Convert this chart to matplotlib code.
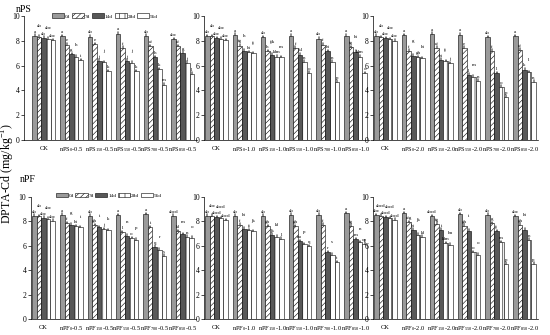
import numpy as np
import matplotlib.pyplot as plt
from matplotlib.patches import Patch

plt.rcParams['font.family'] = 'Liberation Serif'
plt.rcParams['mathtext.fontset'] = 'custom'
plt.rcParams['mathtext.rm'] = 'Liberation Serif'
plt.rcParams['hatch.linewidth'] = 0.4

days = ['0d', '7d', '14d', '28d', '56d']
sizes = ['0', '150', '550', '700', '850']
err = 0.12

# nPS, 0.5 / 1.0 / 2.0  (rows = CK, 0, 150, 550, 700, 850 ; cols = 0d..56d)
nps_05 = [[8.40, 8.32, 8.25, 8.18, 8.05],
          [8.36, 7.70, 6.92, 6.70, 6.43],
          [8.34, 7.72, 6.40, 6.27, 5.55],
          [8.58, 7.45, 6.40, 6.25, 5.55],
          [8.39, 7.55, 6.68, 5.72, 4.47],
          [8.13, 7.55, 7.02, 6.22, 5.35]]
nps_05_let = [['a', 'ab', 'ab', 'abc', 'abc'],
              ['a', 'e', 'g', 'h', 'i'],
              ['ab', 'e', 'j', 'j', 'k'],
              ['a', 'f', 'j', 'j', 'k'],
              ['ab', 'ef', 'h', 'k', 'm'],
              ['abc', 'ef', 'g', 'j', 'l']]

nps_10 = [[8.38, 8.35, 8.22, 8.16, 8.03],
          [8.49, 7.62, 7.20, 7.08, 7.00],
          [8.30, 7.16, 6.89, 6.73, 6.68],
          [8.42, 7.43, 6.89, 6.30, 5.43],
          [8.18, 7.70, 7.14, 6.30, 4.68],
          [8.42, 7.49, 7.10, 6.73, 5.38]]
nps_10_let = [['ab', 'ab', 'abc', 'abc', 'abc'],
              ['a', 'fg', 'h', 'hi', 'ij'],
              ['ab', 'h', 'ijk', 'klm', 'm'],
              ['a', 'f', 'jkl', 'n', 'o'],
              ['ab', 'f', 'hi', 'n', 'p'],
              ['a', 'fg', 'hi', 'klm', 'o']]

nps_20 = [[8.40, 8.30, 8.22, 8.12, 8.02],
          [8.43, 7.20, 6.80, 6.68, 6.60],
          [8.57, 7.43, 6.46, 6.35, 6.19],
          [8.50, 7.43, 5.27, 5.10, 4.78],
          [8.27, 7.20, 5.38, 4.30, 3.49],
          [8.38, 7.27, 5.68, 5.46, 4.70]]
nps_20_let = [['ab', 'ab', 'abc', 'abc', 'abc'],
              ['a', 'f', 'g', 'gh', 'hi'],
              ['a', 'ef', 'hi', 'ij', 'j'],
              ['a', 'e', 'l', 'm', 'n'],
              ['ab', 'f', 'l', 'o', 'p'],
              ['a', 'ef', 'k', 'l', 'n']]

# nPF
npf_05 = [[8.45, 8.43, 8.30, 8.20, 8.05],
          [8.55, 7.87, 7.73, 7.60, 7.51],
          [8.47, 7.68, 7.54, 7.38, 7.27],
          [8.52, 7.13, 6.83, 6.64, 6.48],
          [8.60, 7.54, 5.92, 5.66, 5.18],
          [8.45, 7.20, 6.97, 6.75, 6.65]]
npf_05_let = [['ab', 'ab', 'abc', 'abc', 'abc'],
              ['a', 'f', 'g', 'hi', 'i'],
              ['ab', 'gh', 'i', 'j', 'k'],
              ['a', 'l', 'n', 'o', 'p'],
              ['a', 'i', 'q', 'r', 's'],
              ['abcd', 'kl', 'm', 'n', 'o']]

npf_10 = [[8.47, 8.45, 8.36, 8.28, 8.09],
          [8.47, 7.73, 7.40, 7.27, 7.19],
          [8.47, 7.60, 6.91, 6.75, 6.58],
          [8.55, 7.60, 6.37, 6.15, 5.96],
          [8.55, 7.73, 5.49, 5.27, 4.64],
          [8.69, 7.65, 6.56, 6.31, 6.17]]
npf_10_let = [['ab', 'abc', 'abcd', 'abcd', 'abcd'],
              ['ab', 'f', 'hi', 'ij', 'jk'],
              ['ab', 'gh', 'jk', 'kl', 'l'],
              ['ab', 'gh', 'no', 'p', 'q'],
              ['ab', 'f', 'r', 's', 't'],
              ['a', 'fg', 'm', 'n', 'op']]

npf_20 = [[8.50, 8.47, 8.36, 8.28, 8.14],
          [8.69, 7.95, 7.30, 6.91, 6.75],
          [8.44, 7.81, 7.30, 6.23, 6.09],
          [8.60, 7.65, 7.24, 5.46, 5.27],
          [8.55, 7.84, 7.19, 6.31, 4.54],
          [8.44, 7.73, 7.32, 6.50, 4.54]]
npf_20_let = [['abc', 'abcd', 'abcd', 'abcd', 'abcd'],
              ['a', 'efg', 'hi', 'jk', 'kl'],
              ['abcd', 'fg', 'i', 'klm', 'lm'],
              ['ab', 'gh', 'i', 'o', 'o'],
              ['ab', 'g', 'ij', 'm', 'p'],
              ['abc', 'gh', 'hi', 'n', 'p']]

colors = ['#9a9a9a', 'white', '#585858', 'white', 'white']
hatches = [None, '//////', None, '|||', None]

W, H = 550, 335
PX = 27.8  # px per group
fig = plt.figure(figsize=(W / 100, H / 100), dpi=100)


def panel(left, top, bottom, xl, vals, lets, name, dose):
    xr = 5.5
    ax = fig.add_axes([left / W, 1 - bottom / H, (xr - xl) * PX / W, (bottom - top) / H])
    vals = np.array(vals)
    x = np.arange(6)
    bw = 0.164
    for j in range(5):
        xs = x + (j - 2) * bw
        ax.bar(xs, vals[:, j], bw, color=colors[j], hatch=hatches[j],
               edgecolor='black', linewidth=0.4)
        ax.errorbar(xs, vals[:, j], yerr=[np.zeros(6), np.full(6, err)], fmt='none',
                    ecolor='black', elinewidth=0.35, capsize=1.0, capthick=0.35)
    # letters, staggered when neighbours would collide
    for i in range(6):
        prev_y, prev_up = -10, False
        for j in range(5):
            y = vals[i, j] + err + 0.05
            up = False
            if abs(y - prev_y) < 0.45 and not prev_up:
                y = prev_y + 0.45
                up = True
            ax.text(x[i] + (j - 2) * bw, y, lets[i][j], ha='center', va='bottom',
                    fontsize=3.6)
            prev_y, prev_up = y, up
    ax.set_xlim(xl, xr)
    ax.set_ylim(0, 10)
    ax.set_yticks([0, 2, 4, 6, 8, 10])
    labels = ['CK'] + [name + r'$_{\mathrm{' + s + '}}$-' + dose for s in sizes]
    ax.set_xticks(x)
    ax.set_xticklabels(labels, fontsize=4.6)
    ax.tick_params(axis='x', length=0, pad=4)
    ax.tick_params(axis='y', length=2, width=0.5, labelsize=5.5, pad=1)
    for s in ['top', 'right']:
        ax.spines[s].set_visible(False)
    for s in ['left', 'bottom']:
        ax.spines[s].set_linewidth(0.5)
    return ax


a1 = panel(24, 16, 140, -0.71, nps_05, nps_05_let, 'nPS', '0.5')
panel(204, 16, 140, -0.45, nps_10, nps_10_let, 'nPS', '1.0')
panel(373, 16, 140, -0.45, nps_20, nps_20_let, 'nPS', '2.0')
b1 = panel(30.5, 197, 319, -0.47, npf_05, npf_05_let, 'nPF', '0.5')
panel(204, 197, 319, -0.45, npf_10, npf_10_let, 'nPF', '1.0')
panel(373, 197, 319, -0.45, npf_20, npf_20_let, 'nPF', '2.0')

handles = [Patch(facecolor=colors[j], hatch=hatches[j], edgecolor='black', linewidth=0.4)
           for j in range(5)]
for ax, xc, yc in [(a1, 0.47, 1.0), (b1, 0.47, 1.015)]:
    ax.legend(handles, days, ncol=5, loc='center', bbox_to_anchor=(xc, yc), frameon=False,
              fontsize=3.8, handlelength=2.3, handleheight=1.0, columnspacing=0.3,
              handletextpad=0.15, borderaxespad=0)

fig.text(16 / W, 1 - 9 / H, 'nPS', fontsize=7, va='center')
fig.text(20 / W, 1 - 179 / H, 'nPF', fontsize=7, va='center')
fig.text(8 / W, 1 - 174 / H, 'DPTA-Cd (mg/kg$^{-1}$)', rotation=90, fontsize=8.6,
         ha='center', va='center')

fig.savefig('out.png', dpi=100)
